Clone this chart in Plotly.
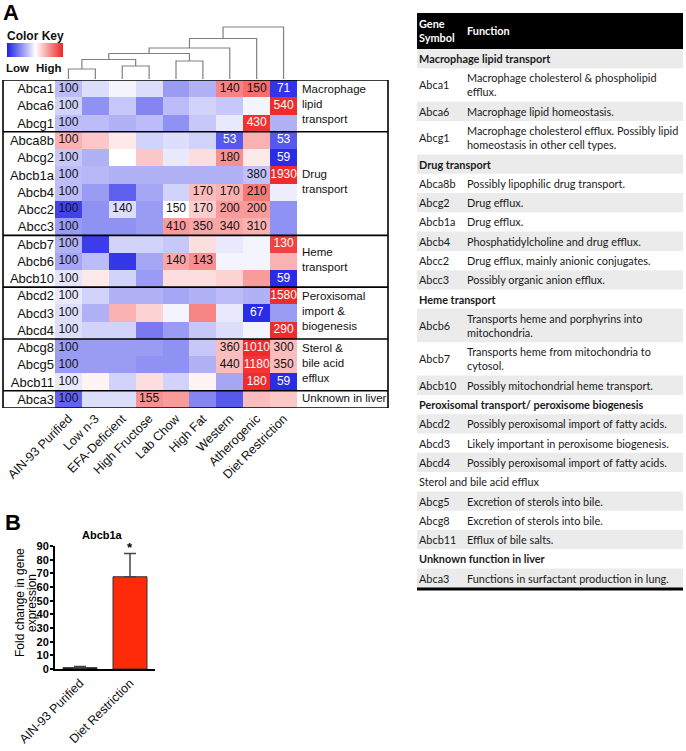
import plotly.graph_objects as go

W, H = 686, 751
def fx(p):
    return p / W
def fy(p):
    return 1 - p / H

# ---------------- data ----------------
diets = ["AIN-93 Purified", "Low n-3", "EFA-Deficient", "High Fructose", "Lab Chow",
         "High Fat", "Western", "Atherogenic", "Diet Restriction"]
genes = ["Abca1", "Abca6", "Abcg1", "Abca8b", "Abcg2", "Abcb1a", "Abcb4", "Abcc2", "Abcc3",
         "Abcb7", "Abcb6", "Abcb10", "Abcd2", "Abcd3", "Abcd4", "Abcg8", "Abcg5", "Abcb11", "Abca3"]

# relative (row-scaled) expression level, -1 = low (blue) .. +1 = high (red)
z_level = [
    [-0.30, -0.15, -0.05, -0.15, -0.45, -0.35,  0.55,  0.65, -0.92],  # Abca1
    [-0.20, -0.50, -0.25, -0.55, -0.30, -0.20, -0.25, -0.05,  0.95],  # Abca6
    [-0.30, -0.30, -0.35, -0.30, -0.50, -0.25, -0.10,  0.92, -0.35],  # Abcg1
    [ 0.35,  0.25,  0.10, -0.20, -0.15, -0.20, -0.75,  0.35, -0.75],  # Abca8b
    [-0.25, -0.35,  0.00,  0.25, -0.10,  0.15,  0.50,  0.10, -0.95],  # Abcg2
    [-0.30, -0.32, -0.35, -0.35, -0.35, -0.35, -0.35, -0.28,  0.95],  # Abcb1a
    [-0.30, -0.45, -0.72, -0.40, -0.20,  0.30,  0.35,  0.60, -0.08],  # Abcb4
    [-0.85, -0.50, -0.15, -0.45,  0.00,  0.22,  0.45,  0.45, -0.50],  # Abcc2
    [-0.45, -0.50, -0.50, -0.45,  0.45,  0.40,  0.40,  0.35, -0.50],  # Abcc3
    [-0.35, -0.88, -0.20, -0.20, -0.25,  0.15, -0.10, -0.05,  0.85],  # Abcb7
    [-0.40, -0.30, -0.90, -0.40,  0.40,  0.50, -0.05, -0.05,  0.35],  # Abcb6
    [-0.12,  0.10, -0.20, -0.45,  0.15,  0.15,  0.20,  0.45, -0.95],  # Abcb10
    [-0.10, -0.20, -0.35, -0.35, -0.40, -0.35, -0.30, -0.35,  0.95],  # Abcd2
    [-0.15, -0.35,  0.35,  0.20, -0.05,  0.55, -0.10, -0.95, -0.45],  # Abcd3
    [-0.15, -0.20, -0.20, -0.60, -0.45, -0.25, -0.15, -0.05,  0.95],  # Abcd4
    [-0.45, -0.45, -0.45, -0.45, -0.50, -0.25,  0.30,  0.95,  0.30],  # Abcg8
    [-0.45, -0.45, -0.45, -0.50, -0.50, -0.35,  0.30,  0.90,  0.30],  # Abcg5
    [-0.10,  0.05, -0.20,  0.15, -0.20,  0.05, -0.40,  0.95, -0.95],  # Abcb11
    [-0.70, -0.15, -0.15,  0.50,  0.45, -0.55, -0.75,  0.30,  0.25],  # Abca3
]

# percent of AIN-93 control written in cells
pct_text = [
    ["100", "", "", "", "", "", "140", "150", "71"],
    ["100", "", "", "", "", "", "", "", "540"],
    ["100", "", "", "", "", "", "", "430", ""],
    ["100", "", "", "", "", "", "53", "", "53"],
    ["100", "", "", "", "", "", "180", "", "59"],
    ["100", "", "", "", "", "", "", "380", "1930"],
    ["100", "", "", "", "", "170", "170", "210", ""],
    ["100", "", "140", "", "150", "170", "200", "200", ""],
    ["100", "", "", "", "410", "350", "340", "310", ""],
    ["100", "", "", "", "", "", "", "", "130"],
    ["100", "", "", "", "140", "143", "", "", ""],
    ["100", "", "", "", "", "", "", "", "59"],
    ["100", "", "", "", "", "", "", "", "1580"],
    ["100", "", "", "", "", "", "", "67", ""],
    ["100", "", "", "", "", "", "", "", "290"],
    ["100", "", "", "", "", "", "360", "1010", "300"],
    ["100", "", "", "", "", "", "440", "1180", "350"],
    ["100", "", "", "", "", "", "", "180", "59"],
    ["100", "", "", "155", "", "", "", "", ""],
]

group_labels = ["Macrophage<br>lipid<br>transport", "Drug<br>transport", "Heme<br>transport",
                "Peroxisomal<br>import &<br>biogenesis", "Sterol &<br>bile acid<br>efflux",
                "Unknown in liver"]
group_start = [0, 3, 9, 12, 15, 18]
group_end = [3, 9, 12, 15, 18, 19]

# column dendrogram: (left cluster, right cluster, merge height); leaves 0..8, new ids from 9
dendro_merges = [(0, 1, 10), (2, 3, 13), (4, 5, 18), (9, 10, 19.5),
                 (12, 11, 25.5), (13, 6, 31), (14, 7, 40.5), (15, 8, 52)]

# colour key levels (low -> high)
key_levels = [-1, 0, 1]

# panel B
bar_groups = ["AIN-93 Purified", "Diet Restriction"]
bar_values = [1.0, 67.5]
bar_err = [0.8, 17.0]

# table
table_symbol = ["Macrophage lipid transport", "Abca1", "Abca6", "Abcg1",
                "Drug transport", "Abca8b", "Abcg2", "Abcb1a", "Abcb4", "Abcc2", "Abcc3",
                "Heme transport", "Abcb6", "Abcb7", "Abcb10",
                "Peroxisomal transport/ peroxisome biogenesis", "Abcd2", "Abcd3", "Abcd4",
                "Sterol and bile acid efflux", "Abcg5", "Abcg8", "Abcb11",
                "Unknown function in liver", "Abca3"]
table_function = ["", "Macrophage cholesterol & phospholipid<br>efflux.", "Macrophage lipid homeostasis.",
                  "Macrophage cholesterol efflux. Possibly lipid<br>homeostasis in other cell types.",
                  "", "Possibly lipophilic drug transport.", "Drug efflux.", "Drug efflux.",
                  "Phosphatidylcholine and drug efflux.", "Drug efflux, mainly anionic conjugates.",
                  "Possibly organic anion efflux.",
                  "", "Transports heme and porphyrins into<br>mitochondria.",
                  "Transports heme from mitochondria to<br>cytosol.", "Possibly mitochondrial heme transport.",
                  "", "Possibly peroxisomal import of fatty acids.", "Likely important in peroxisome biogenesis.",
                  "Possibly peroxisomal import of fatty acids.",
                  "", "Excretion of sterols into bile.", "Excretion of sterols into bile.", "Efflux of bile salts.",
                  "", "Functions in surfactant production in lung."]
table_kind = ["bold", "gene", "gene", "gene", "bold", "gene", "gene", "gene", "gene", "gene", "gene",
              "bold", "gene", "gene", "gene", "bold", "gene", "gene", "gene",
              "plain", "gene", "gene", "gene", "bold", "gene"]

ARIAL = "Liberation Sans, Arial, sans-serif"
CAL = "Lato, Open Sans, sans-serif"
TFS = 10.9

fig = go.Figure()

# ---------------- heatmap ----------------
cscale = [[0, "#1f22e6"], [0.5, "#ffffff"], [1, "#ee2020"]]
fig.add_trace(go.Heatmap(
    z=z_level, x=list(range(len(diets))), y=list(range(len(genes))),
    zmin=-1, zmax=1, colorscale=cscale, hoverinfo="skip", showscale=False,
    xaxis="x", yaxis="y"))

tx, ty, tt, tc = [], [], [], []
for r, row in enumerate(pct_text):
    for c, s in enumerate(row):
        if s:
            tx.append(c); ty.append(r); tt.append(s)
            tc.append("white" if (abs(z_level[r][c]) >= 0.7 and c != 0) else "#111111")
fig.add_trace(go.Scatter(x=tx, y=ty, text=tt, mode="text", textposition="middle center",
                         textfont=dict(family=ARIAL, size=12, color=tc),
                         hoverinfo="skip", showlegend=False, xaxis="x", yaxis="y"))

# ---------------- colour key ----------------
fig.add_trace(go.Heatmap(
    z=[key_levels, key_levels], x=list(range(len(key_levels))), y=[0, 1],
    zmin=-1, zmax=1, colorscale=cscale, zsmooth="best", showscale=False,
    hoverinfo="skip", xaxis="x3", yaxis="y3"))

# ---------------- dendrogram ----------------
pos = {i: float(i) for i in range(len(diets))}
hgt = {i: 0.0 for i in range(len(diets))}
dx, dy = [], []
nid = len(diets)
for a, b, h in dendro_merges:
    dx += [pos[a], pos[a], pos[b], pos[b], None]
    dy += [hgt[a], h, h, hgt[b], None]
    pos[nid] = (pos[a] + pos[b]) / 2
    hgt[nid] = h
    nid += 1
fig.add_trace(go.Scatter(x=dx, y=dy, mode="lines", line=dict(color="#808080", width=1.2),
                         hoverinfo="skip", showlegend=False, xaxis="x2", yaxis="y2"))

# ---------------- panel B bars ----------------
fig.add_trace(go.Bar(x=bar_groups, y=bar_values, width=0.68,
                     marker=dict(color=["#111111", "#ff2a0a"], line=dict(color="#333333", width=1)),
                     error_y=dict(type="data", symmetric=False, array=bar_err, arrayminus=[0, 0],
                                  color="#444444", thickness=1.5, width=6),
                     hoverinfo="skip", showlegend=False, xaxis="x4", yaxis="y4"))

shapes = []
annotations = []

# heatmap box and group separators
shapes.append(dict(type="rect", xref="paper", yref="y", x0=fx(3), x1=fx(388), y0=-0.5, y1=len(genes) - 0.5,
                   line=dict(color="black", width=1.6)))
for s in group_start[1:]:
    shapes.append(dict(type="line", xref="paper", yref="y", x0=fx(3), x1=fx(388), y0=s - 0.5, y1=s - 0.5,
                       line=dict(color="black", width=1.6)))
for lab, s, e in zip(group_labels, group_start, group_end):
    annotations.append(dict(text=lab, xref="paper", yref="y", x=fx(300), y=(s + e - 1) / 2 - 0.1,
                            xanchor="left", yanchor="middle", align="left", showarrow=False,
                            font=dict(family=ARIAL, size=11.5, color="#111111")))

# panel letters & color key text
annotations.append(dict(text="<b>A</b>", xref="paper", yref="paper", x=fx(1), y=fy(13), xanchor="left",
                        yanchor="middle", showarrow=False, font=dict(family=ARIAL, size=22, color="black")))
annotations.append(dict(text="<b>B</b>", xref="paper", yref="paper", x=fx(3), y=fy(522), xanchor="left",
                        yanchor="middle", showarrow=False, font=dict(family=ARIAL, size=22, color="black")))
annotations.append(dict(text="<b>Color Key</b>", xref="paper", yref="paper", x=fx(35), y=fy(36),
                        xanchor="center", yanchor="middle", showarrow=False,
                        font=dict(family=ARIAL, size=12, color="#111111")))
annotations.append(dict(text="<b>Low</b>", xref="paper", yref="paper", x=fx(4), y=fy(68),
                        xanchor="left", yanchor="middle", showarrow=False,
                        font=dict(family=ARIAL, size=11.5, color="#111111")))
annotations.append(dict(text="<b>High</b>", xref="paper", yref="paper", x=fx(64), y=fy(68),
                        xanchor="right", yanchor="middle", showarrow=False,
                        font=dict(family=ARIAL, size=11.5, color="#111111")))

# panel B texts
annotations.append(dict(text="<b>Abcb1a</b>", xref="paper", yref="paper", x=fx(103), y=fy(535),
                        xanchor="center", yanchor="middle", showarrow=False,
                        font=dict(family=ARIAL, size=11, color="black")))
annotations.append(dict(text="<b>*</b>", xref="x4", yref="paper", x=1, y=fy(547),
                        xanchor="center", yanchor="middle", showarrow=False,
                        font=dict(family=ARIAL, size=13, color="black")))
annotations.append(dict(text="Fold change in gene", xref="paper", yref="paper", x=fx(20), y=fy(603),
                        xanchor="center", yanchor="middle", textangle=-90, showarrow=False,
                        font=dict(family=ARIAL, size=12, color="black")))
annotations.append(dict(text="expression", xref="paper", yref="paper", x=fx(32), y=fy(603),
                        xanchor="center", yanchor="middle", textangle=-90, showarrow=False,
                        font=dict(family=ARIAL, size=12, color="black")))

# ---------------- table ----------------
TX0, TX1, TXF = 417, 683, 465
shapes.append(dict(type="rect", xref="paper", yref="paper", x0=fx(TX0), x1=fx(TX1), y0=fy(49), y1=fy(13),
                   fillcolor="black", line=dict(width=0)))
annotations.append(dict(text="<b>Gene<br>Symbol</b>", xref="paper", yref="paper", x=fx(TX0), y=fy(31),
                        xanchor="left", yanchor="middle", align="left", showarrow=False,
                        font=dict(family=CAL, size=TFS, color="white")))
annotations.append(dict(text="<b>Function</b>", xref="paper", yref="paper", x=fx(TXF), y=fy(31),
                        xanchor="left", yanchor="middle", align="left", showarrow=False,
                        font=dict(family=CAL, size=TFS, color="white")))
ycur = 49.0
for i, (sym, fun, kind) in enumerate(zip(table_symbol, table_function, table_kind)):
    nl = fun.count("<br>") + 1 if fun else 1
    h = 5.2 + 14.1 * nl
    if i % 2 == 0:
        shapes.append(dict(type="rect", xref="paper", yref="paper", x0=fx(TX0), x1=fx(TX1),
                           y0=fy(ycur + h), y1=fy(ycur), fillcolor="#ebebeb", line=dict(width=0), layer="below"))
    yc = ycur + h / 2
    if kind == "gene":
        annotations.append(dict(text=sym, xref="paper", yref="paper", x=fx(TX0), y=fy(yc),
                                xanchor="left", yanchor="middle", showarrow=False,
                                font=dict(family=CAL, size=TFS, color="#1a1a1a")))
        annotations.append(dict(text=fun, xref="paper", yref="paper", x=fx(TXF), y=fy(yc),
                                xanchor="left", yanchor="middle", align="left", showarrow=False,
                                font=dict(family=CAL, size=TFS, color="#1a1a1a")))
    else:
        txt = "<b>%s</b>" % sym if kind == "bold" else sym
        annotations.append(dict(text=txt, xref="paper", yref="paper", x=fx(TX0), y=fy(yc),
                                xanchor="left", yanchor="middle", showarrow=False,
                                font=dict(family=CAL, size=TFS, color="#1a1a1a")))
    ycur += h
shapes.append(dict(type="line", xref="paper", yref="paper", x0=fx(TX0), x1=fx(TX1), y0=fy(ycur + 1),
                   y1=fy(ycur + 1), line=dict(color="black", width=3)))

fig.update_layout(
    width=W, height=H, autosize=False,
    margin=dict(l=0, r=0, t=0, b=0, autoexpand=False),
    paper_bgcolor="white", plot_bgcolor="rgba(0,0,0,0)",
    showlegend=False,
    shapes=shapes, annotations=annotations,
    xaxis=dict(domain=[fx(55), fx(297)], range=[-0.5, len(diets) - 0.5], anchor="y",
               tickmode="array", tickvals=list(range(len(diets))), ticktext=diets,
               tickangle=-45, ticks="", showgrid=False, zeroline=False, showline=False,
               automargin=False,
               tickfont=dict(family=ARIAL, size=12.5, color="#111111")),
    yaxis=dict(domain=[fy(408), fy(80)], range=[len(genes) - 0.5, -0.5], anchor="x",
               tickmode="array", tickvals=list(range(len(genes))), ticktext=genes,
               ticks="", showgrid=False, zeroline=False, showline=False, automargin=False,
               tickfont=dict(family=ARIAL, size=13, color="#111111")),
    xaxis2=dict(domain=[fx(55), fx(297)], range=[-0.5, len(diets) - 0.5], anchor="y2",
                visible=False),
    yaxis2=dict(domain=[fy(79), fy(26)], range=[0, 53], anchor="x2", visible=False),
    xaxis3=dict(domain=[fx(7), fx(63)], range=[0, len(key_levels) - 1], anchor="y3", visible=False),
    yaxis3=dict(domain=[fy(57), fy(43)], range=[0, 1], anchor="x3", visible=False),
    xaxis4=dict(domain=[fx(55), fx(155)], range=[-0.5, 1.5], anchor="y4", type="category",
                tickangle=-45, ticks="", showline=True, linewidth=2, linecolor="black",
                showgrid=False, zeroline=False, automargin=False,
                tickfont=dict(family=ARIAL, size=12.5, color="#111111")),
    yaxis4=dict(domain=[fy(669), fy(546)], range=[0, 90], anchor="x4", dtick=10,
                ticks="outside", ticklen=3, tickwidth=1.5, tickcolor="black",
                ticklabelstandoff=-1,
                showline=True, linewidth=2, linecolor="black", showgrid=False, zeroline=False,
                automargin=False,
                tickfont=dict(family=ARIAL, size=11, color="black", weight="bold")),
)

fig.write_html("out.html", config={"displayModeBar": False},
               post_script="document.body.style.margin='0';document.body.style.overflow='hidden';")
